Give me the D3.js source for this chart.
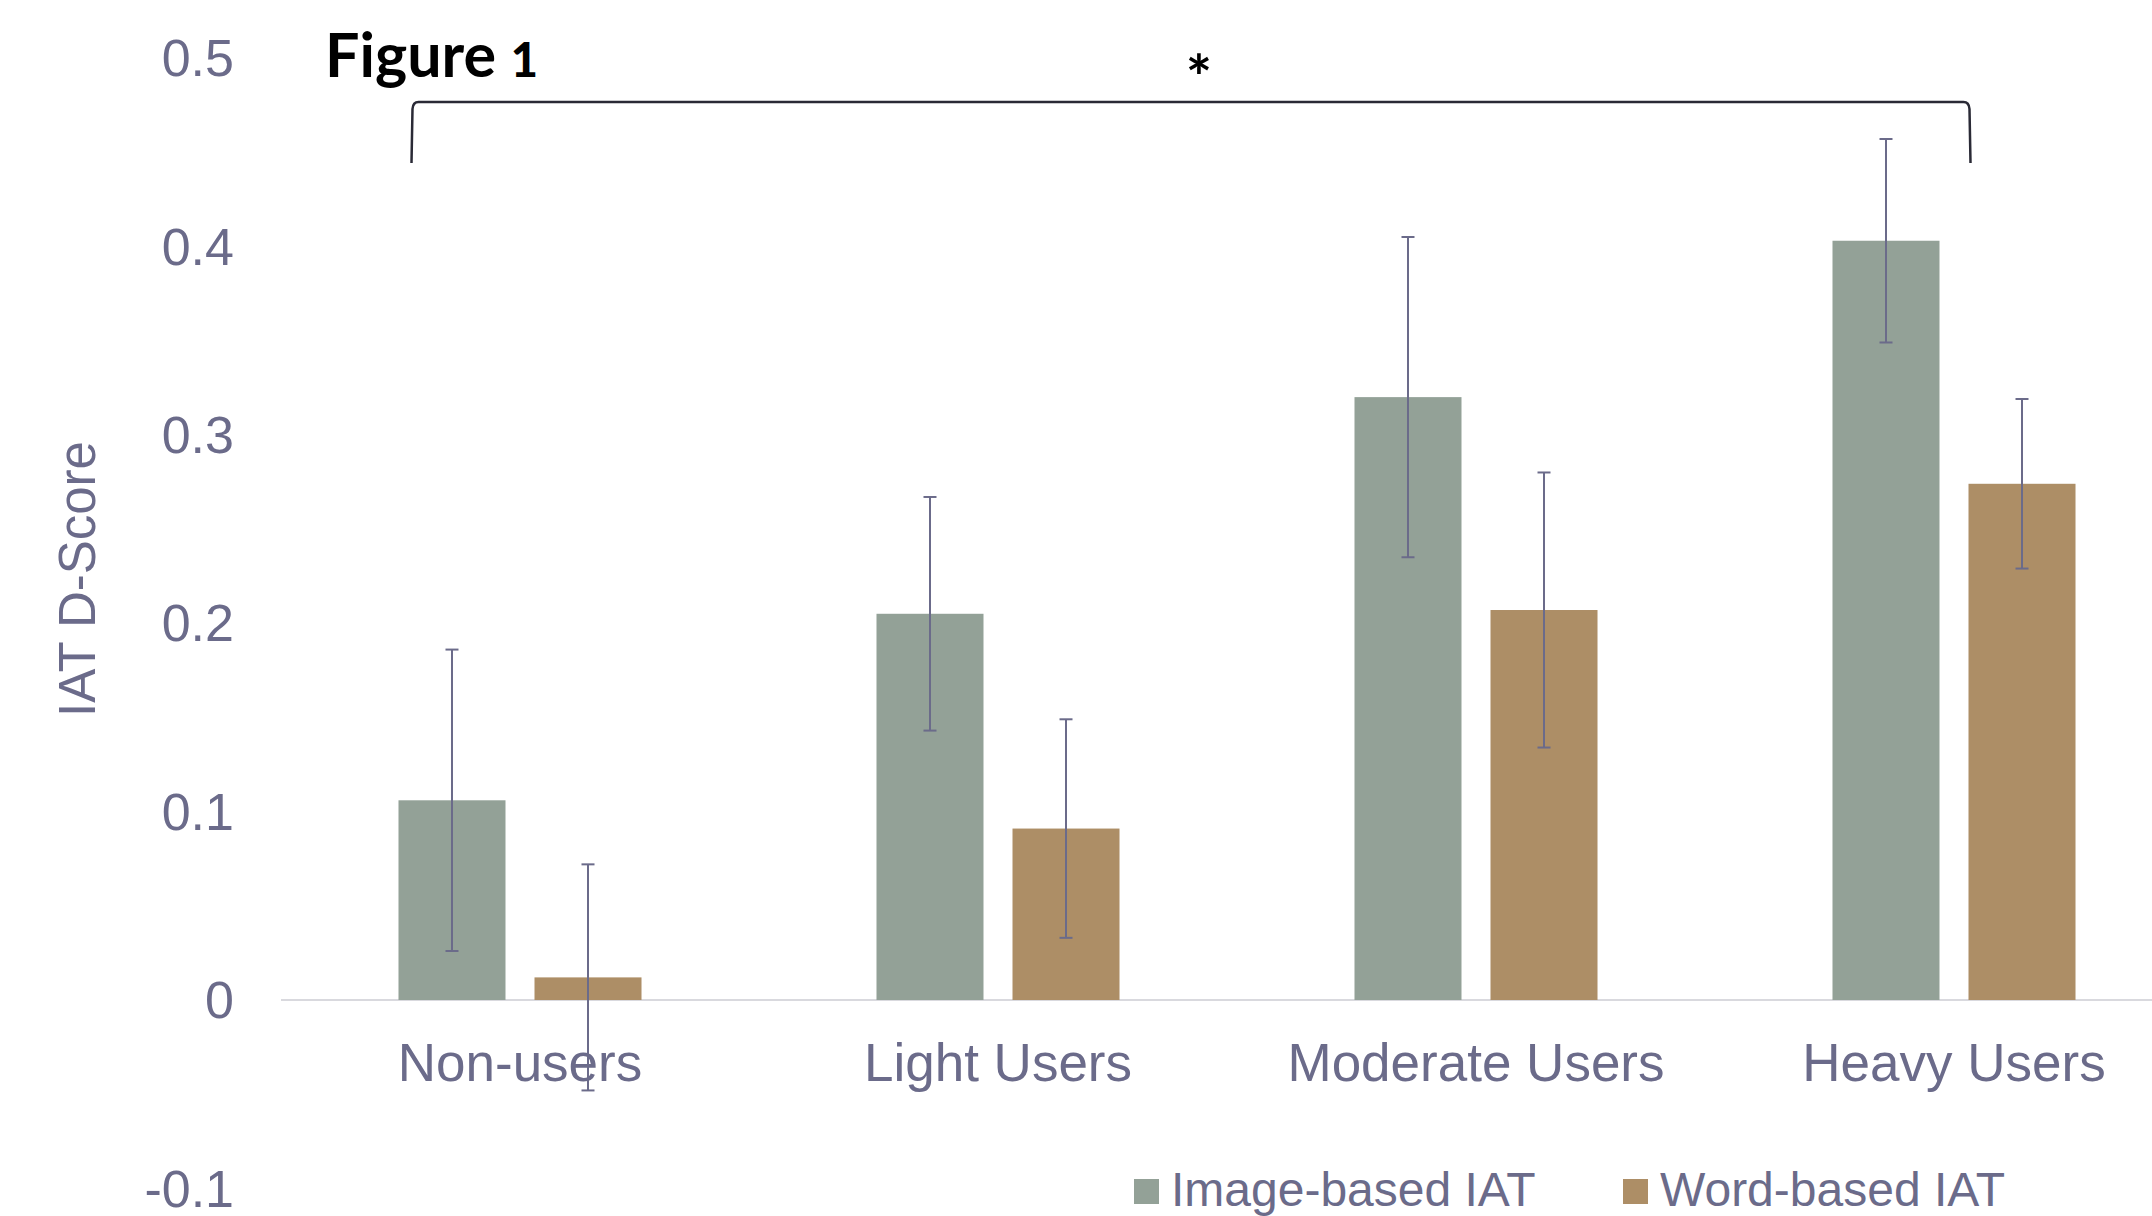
<!DOCTYPE html>
<html>
<head>
<meta charset="utf-8">
<script src="https://cdn.jsdelivr.net/npm/d3@7"></script>
<style>
  html, body { margin: 0; padding: 0; background: #ffffff; }
  svg { display: block; }
</style>
</head>
<body>
<svg id="chart" width="2152" height="1216"></svg>
<script>
// IAT D-scores by cannabis use group, with error bars
const categories = ["Non-users", "Light Users", "Moderate Users", "Heavy Users"];
const seriesNames = ["Image-based IAT", "Word-based IAT"];
const imageScores = [0.106, 0.205, 0.320, 0.403];
const imageErrors = [0.080, 0.062, 0.085, 0.054];
const wordScores = [0.012, 0.091, 0.207, 0.274];
const wordErrors = [0.060, 0.058, 0.073, 0.045];
const yTicks = [-0.1, 0, 0.1, 0.2, 0.3, 0.4, 0.5];
const yTickLabels = ["-0.1", "0", "0.1", "0.2", "0.3", "0.4", "0.5"];
const colors = ["#93a197", "#ad8e66"];

const rows = categories.map((c, i) => ({
  category: c,
  values: [
    { series: seriesNames[0], value: imageScores[i], err: imageErrors[i] },
    { series: seriesNames[1], value: wordScores[i], err: wordErrors[i] }
  ]
}));

const svg = d3.select("#chart");
const textColor = "#6b6b8a";
const sansFont = "'Liberation Sans', Arial, Helvetica, sans-serif";

const x = d3.scaleBand()
  .domain(categories)
  .range([281, 2193])
  .paddingInner(0.4916)
  .paddingOuter(0.2458);

const xSub = d3.scaleBand()
  .domain(seriesNames)
  .range([0, x.bandwidth()])
  .paddingInner(0.2132);

const y = d3.scaleLinear()
  .domain([-0.1, 0.5])
  .range([1188.4, 58]);

const color = d3.scaleOrdinal().domain(seriesNames).range(colors);

// y-axis: labels only, no domain line or tick marks
const yAxis = svg.append("g")
  .attr("transform", "translate(234,0)")
  .call(d3.axisLeft(y).tickValues(yTicks)
    .tickFormat((d, i) => yTickLabels[i]).tickSize(0).tickPadding(0));
yAxis.select(".domain").remove();
yAxis.selectAll("text")
  .attr("fill", textColor)
  .attr("font-family", sansFont)
  .attr("font-size", 52)
  .attr("dy", "0.34em");

// zero baseline across the plot
svg.append("line")
  .attr("x1", 281).attr("x2", 2152)
  .attr("y1", y(0)).attr("y2", y(0))
  .attr("stroke", "#d9d9de")
  .attr("stroke-width", 2);

// bars
const groups = svg.append("g").selectAll("g")
  .data(rows)
  .join("g")
  .attr("transform", d => `translate(${x(d.category)},0)`);

groups.selectAll("rect")
  .data(d => d.values)
  .join("rect")
  .attr("x", d => xSub(d.series))
  .attr("width", xSub.bandwidth())
  .attr("y", d => y(Math.max(0, d.value)))
  .attr("height", d => Math.abs(y(d.value) - y(0)))
  .attr("fill", d => color(d.series));

// error bars
const capHalf = 6.5;
const eb = groups.selectAll("g.err")
  .data(d => d.values)
  .join("g")
  .attr("class", "err")
  .attr("stroke", "#6b6b8a")
  .attr("stroke-width", 2);
eb.append("line")
  .attr("x1", d => xSub(d.series) + xSub.bandwidth() / 2)
  .attr("x2", d => xSub(d.series) + xSub.bandwidth() / 2)
  .attr("y1", d => y(d.value + d.err))
  .attr("y2", d => y(d.value - d.err));
eb.append("line")
  .attr("x1", d => xSub(d.series) + xSub.bandwidth() / 2 - capHalf)
  .attr("x2", d => xSub(d.series) + xSub.bandwidth() / 2 + capHalf)
  .attr("y1", d => y(d.value + d.err))
  .attr("y2", d => y(d.value + d.err));
eb.append("line")
  .attr("x1", d => xSub(d.series) + xSub.bandwidth() / 2 - capHalf)
  .attr("x2", d => xSub(d.series) + xSub.bandwidth() / 2 + capHalf)
  .attr("y1", d => y(d.value - d.err))
  .attr("y2", d => y(d.value - d.err));

// category labels
svg.append("g").selectAll("text")
  .data(categories)
  .join("text")
  .attr("x", d => x(d) + x.bandwidth() / 2)
  .attr("y", 1081)
  .attr("text-anchor", "middle")
  .attr("fill", textColor)
  .attr("font-family", sansFont)
  .attr("font-size", 53)
  .text(d => d);

// y-axis title
svg.append("text")
  .attr("transform", "translate(95,579) rotate(-90)")
  .attr("text-anchor", "middle")
  .attr("fill", textColor)
  .attr("font-family", sansFont)
  .attr("font-size", 51)
  .text("IAT D-Score");

// legend
const legendX = [1134, 1623];
const legend = svg.append("g").selectAll("g")
  .data(seriesNames)
  .join("g")
  .attr("transform", (d, i) => `translate(${legendX[i]},0)`);
legend.append("rect")
  .attr("x", 0).attr("y", 1179)
  .attr("width", 25).attr("height", 25)
  .attr("fill", d => color(d));
legend.append("text")
  .attr("x", 37).attr("y", 1206)
  .attr("fill", textColor)
  .attr("font-family", sansFont)
  .attr("font-size", 48)
  .text(d => d);

// significance bracket from the Non-users image bar to the Heavy Users word bar
const bx0 = x(categories[0]) + 13;
const bx1 = x(categories[3]) + xSub(seriesNames[1]) + 2;
const by = 102, bBottom = 163, r = 7;
svg.append("path")
  .attr("d", `M${bx0},${bBottom} L${bx0 + 1},${by + r} Q${bx0 + 1.5},${by} ${bx0 + r},${by}
              L${bx1 - r},${by} Q${bx1 - 1.5},${by} ${bx1 - 1},${by + r} L${bx1},${bBottom}`)
  .attr("fill", "none")
  .attr("stroke", "#2a2a36")
  .attr("stroke-width", 2.5);

svg.append("text")
  .attr("x", (bx0 + bx1) / 2 + 8)
  .attr("y", 100)
  .attr("text-anchor", "middle")
  .attr("font-family", "Lato, 'Open Sans', sans-serif")
  .attr("font-weight", 700)
  .attr("font-size", 62)
  .attr("fill", "#000")
  .text("*");

// figure title
const title = svg.append("text")
  .attr("x", 325)
  .attr("y", 77)
  .attr("font-family", "Lato, 'Open Sans', sans-serif")
  .attr("font-weight", 700)
  .attr("font-size", 61)
  .attr("fill", "#000");
title.append("tspan").text("Figure ");
title.append("tspan").attr("font-size", 47).attr("font-weight", 900).text("1");
</script>
</body>
</html>
